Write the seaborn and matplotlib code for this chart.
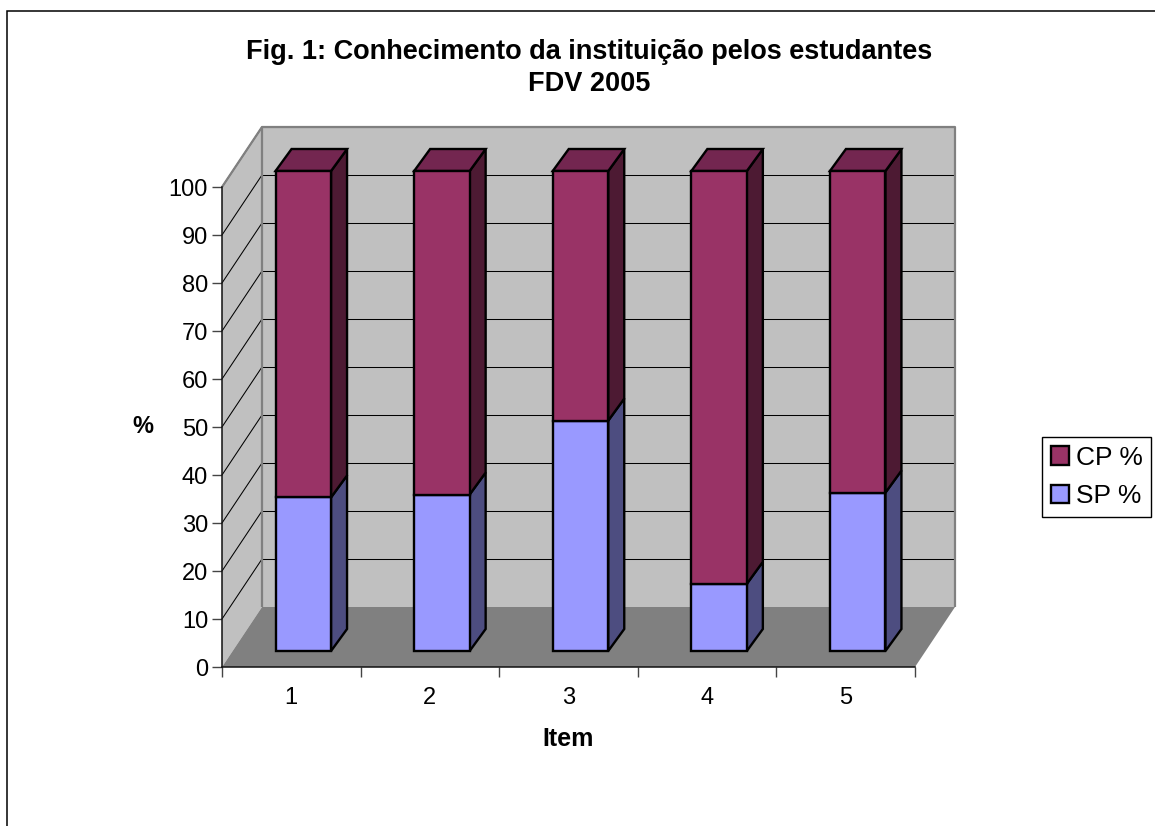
import matplotlib
matplotlib.use("Agg")
import matplotlib.pyplot as plt
from matplotlib.patches import Patch, Polygon, Rectangle
from matplotlib.transforms import Affine2D
import pandas as pd
import seaborn as sns

# Values
items = ["1", "2", "3", "4", "5"]
sp_pct = [32, 32.6, 48, 14, 33]
cp_pct = [68, 67.4, 52, 86, 67]
y_ticks = list(range(0, 101, 10))

W, H = 1155, 826
LEFT, RIGHT, Y0, Y100 = 222, 915, 667, 187
WALL_DX, WALL_DY = 40, 60    # depth of the walls, px
BAR_DX, BAR_DY = 12, 16      # bars stand a little behind the front plane
SIDE_DX, SIDE_DY = 16, 22    # depth of the bars, px

FONT = "Liberation Sans"
CP_COLOR, SP_COLOR = "#993366", "#9999FF"
BAR_LW = 1.7


def pixel_axes(fig, left, right, bottom, top):
    """Axes placed by image pixels, y counted from the top."""
    return fig.add_axes([left / W, 1 - bottom / H, (right - left) / W, (bottom - top) / H])


def draw_walls(ax):
    """Grey back wall, left wall and floor with their grid lines."""
    back = ax.transData + Affine2D().translate(WALL_DX, WALL_DY)
    dx = WALL_DX * 5 / (RIGHT - LEFT)
    dy = WALL_DY * 100 / (Y0 - Y100)

    ax.add_patch(Polygon([(0, 0), (dx, dy), (dx, 100 + dy), (0, 100)], fc="#C0C0C0", ec="none", zorder=1, clip_on=False))
    ax.add_patch(Rectangle((0, 0), 5, 100, transform=back, fc="#C0C0C0", ec="none", zorder=1, clip_on=False))
    ax.add_patch(Polygon([(0, 0), (5, 0), (5 + dx, dy), (dx, dy)], fc="#808080", ec="none", zorder=2, clip_on=False))

    for t in y_ticks[1:]:
        ax.plot([0, 5], [t, t], transform=back, color="black", lw=0.75, zorder=2, clip_on=False)
        ax.plot([0, dx], [t, t + dy], color="black", lw=0.75, zorder=2, clip_on=False)

    # thick grey edges
    edge = dict(color="#808080", lw=1.6, zorder=3, clip_on=False, solid_capstyle="butt")
    ax.plot([0, dx, 5 + dx, 5 + dx], [100, 100 + dy, 100 + dy, dy], **edge)
    ax.plot([dx, dx], [dy, 100 + dy], **edge)


def add_3d_faces(ax, bars, side_color, top_color=None):
    """Side (and top) faces of the bars, built from the seaborn rectangles."""
    dx = SIDE_DX * 5 / (RIGHT - LEFT)
    dy = SIDE_DY * 100 / (Y0 - Y100)
    for bar in bars:
        x0, x1 = bar.get_x(), bar.get_x() + bar.get_width()
        y0, y1 = bar.get_y(), bar.get_y() + bar.get_height()
        ax.add_patch(Polygon([(x1, y0), (x1 + dx, y0 + dy), (x1 + dx, y1 + dy), (x1, y1)],
                             fc=side_color, ec="black", lw=BAR_LW, zorder=4, clip_on=False, joinstyle="miter"))
        if top_color:
            ax.add_patch(Polygon([(x0, y1), (x1, y1), (x1 + dx, y1 + dy), (x0 + dx, y1 + dy)],
                                 fc=top_color, ec="black", lw=BAR_LW, zorder=4, clip_on=False, joinstyle="miter"))


sns.set_style("white")
plt.rcParams["font.family"] = [FONT, "DejaVu Sans"]
plt.rcParams["text.color"] = "black"
plt.rcParams["xtick.labelcolor"] = "black"
plt.rcParams["ytick.labelcolor"] = "black"

df = pd.DataFrame({"item": items, "sp": sp_pct, "cp": cp_pct})

fig = plt.figure(figsize=(W / 100, H / 100), dpi=100, facecolor="white")

# outer chart frame, only its top and left edge fall inside the picture
fig.add_artist(Rectangle((7 / W, -0.05), 1.1, 1.05 - 11 / H, transform=fig.transFigure,
                         fc="none", ec="black", lw=1.1))

ax = pixel_axes(fig, LEFT, RIGHT, Y0, Y100)
ax.set_xlim(0, 5)
ax.set_ylim(0, 100)
ax.patch.set_visible(False)
draw_walls(ax)

# bars live on a second axes shifted to the bar plane
bar_ax = pixel_axes(fig, LEFT + BAR_DX, RIGHT + BAR_DX, Y0 - BAR_DY, Y100 - BAR_DY)
bar_width = 55.5 / ((RIGHT - LEFT) / 5)
sns.barplot(data=df, x="item", y="sp", color=SP_COLOR, saturation=1, width=bar_width,
            edgecolor="black", linewidth=BAR_LW, ax=bar_ax, zorder=5, clip_on=False)
n_sp = len(bar_ax.patches)
sns.barplot(data=df, x="item", y="cp", bottom=df["sp"], color=CP_COLOR, saturation=1, width=bar_width,
            edgecolor="black", linewidth=BAR_LW, ax=bar_ax, zorder=5, clip_on=False)
sp_bars = list(bar_ax.patches[:n_sp])
cp_bars = list(bar_ax.patches[n_sp:])
bar_ax.set_xlim(-0.5, 4.5)
bar_ax.set_ylim(0, 100)
bar_ax.axis("off")
add_3d_faces(bar_ax, sp_bars, "#4D4D80")
add_3d_faces(bar_ax, cp_bars, "#4D1A33", "#732650")

# front axis lines and ticks
for side in ["top", "right"]:
    ax.spines[side].set_visible(False)
for side in ["left", "bottom"]:
    ax.spines[side].set_linewidth(1.1)
    ax.spines[side].set_color("#111111")
    ax.spines[side].set_zorder(3)
ax.set_xticks(range(6))
ax.set_xticklabels([])
ax.set_yticks(y_ticks)
ax.tick_params(axis="y", left=True, length=7, width=1, labelsize=17, pad=3, color="#444444")
ax.tick_params(axis="x", bottom=True, length=7, width=1, color="#444444")
for i, label in enumerate(items):
    ax.annotate(label, (i + 0.5, 0), xytext=(0, -31), textcoords="offset pixels",
                ha="center", va="center", fontsize=17)

fig.text(568.5 / W, 1 - 739 / H, "Item", ha="center", va="center", fontsize=18, fontweight="bold")
fig.text(143 / W, 1 - 427 / H, "%", ha="center", va="center", fontsize=17, fontweight="bold")
fig.text(589.5 / W, 1 - 68 / H, "Fig. 1: Conhecimento da instituição pelos estudantes\nFDV 2005",
         ha="center", va="center", fontsize=19.5, fontweight="bold", linespacing=1.28)

handles = [Patch(fc=CP_COLOR, ec="black", lw=BAR_LW, label="CP %"),
           Patch(fc=SP_COLOR, ec="black", lw=BAR_LW, label="SP %")]
fig.legend(handles=handles, loc="center left", bbox_to_anchor=(1042 / W, 1 - 477 / H),
           fontsize=19, frameon=True, fancybox=False, edgecolor="black", framealpha=1,
           handlelength=0.68, handleheight=0.68, handletextpad=0.26, labelspacing=0.55,
           borderpad=0.33, borderaxespad=0)

fig.savefig("out.png", dpi=100)
